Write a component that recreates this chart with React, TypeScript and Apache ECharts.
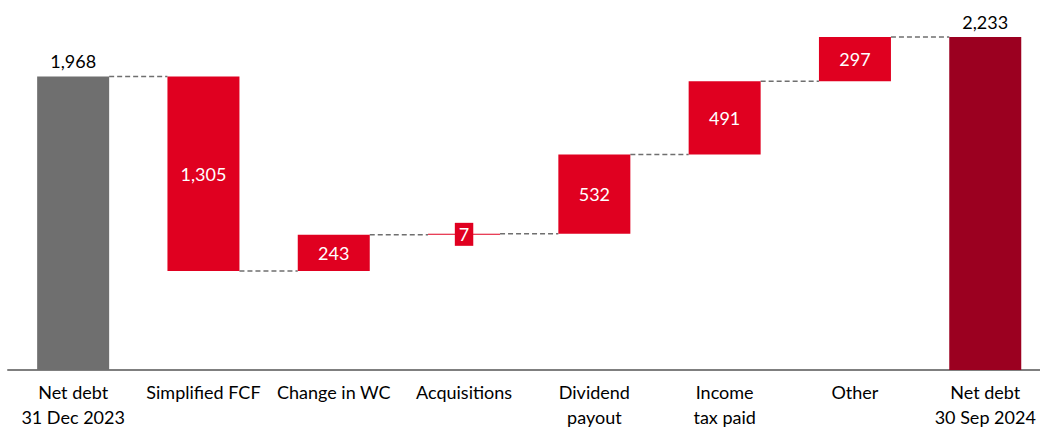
import React, { useEffect, useRef } from "react";
import * as echarts from "echarts";

const categories = [
  "Net debt\n31 Dec 2023",
  "Simplified FCF",
  "Change in WC",
  "Acquisitions",
  "Dividend\npayout",
  "Income\ntax paid",
  "Other",
  "Net debt\n30 Sep 2024",
];
const startTotal = 1968;
const changes = [-1305, 243, 7, 532, 491, 297];
const endTotal = 2233;

const GRAY = "#6f6f6f";
const RED = "#e00020";
const DARK = "#9b0020";
const FONT = "Lato";

export default function App() {
  const ref = useRef<HTMLDivElement>(null);
  useEffect(() => {
    const chart = echarts.init(ref.current!, null, { renderer: "svg" });
    const bases: number[] = [0];
    const heights: number[] = [startTotal];
    const levels: number[] = [startTotal];
    let run = startTotal;
    changes.forEach((c) => {
      const next = run + c;
      bases.push(Math.min(run, next));
      heights.push(Math.abs(c));
      run = next;
      levels.push(run);
    });
    bases.push(0);
    heights.push(endTotal);

    const barData = heights.map((h, i) => {
      const isTotal = i === 0 || i === heights.length - 1;
      const color = i === 0 ? GRAY : i === heights.length - 1 ? DARK : RED;
      const small = !isTotal && h < 50;
      return {
        value: h,
        itemStyle: { color },
        label: isTotal
          ? { show: true, position: "top", distance: 6, color: "#000" }
          : small
          ? {
              show: true,
              position: "inside",
              color: "#fff",
              backgroundColor: RED,
              padding: [3, 4, 2, 4],
            }
          : { show: true, position: "inside", color: "#fff" },
      };
    });

    const connectors = levels.map((v, i) => [i, v]);

    chart.setOption({
      animation: false,
      grid: { left: 8, width: 1042.4, top: 12, height: 361 },
      xAxis: {
        type: "category",
        data: categories,
        axisLine: { lineStyle: { color: "#7f7f7f", width: 2 } },
        axisTick: { show: false },
        axisLabel: {
          interval: 0,
          color: "#000",
          fontFamily: FONT,
          fontSize: 18,
          lineHeight: 25,
          margin: 9,
        },
      },
      yAxis: {
        type: "value",
        min: 0,
        max: 2400,
        show: false,
        splitLine: { show: false },
      },
      series: [
        {
          type: "bar",
          stack: "w",
          data: bases,
          itemStyle: { color: "transparent" },
          barWidth: 72,
          silent: true,
        },
        {
          type: "bar",
          stack: "w",
          data: barData,
          barWidth: 72,
          label: {
            fontFamily: FONT,
            fontSize: 18,
            formatter: (p: any) => p.value.toLocaleString("en-US"),
          },
        },
        {
          type: "custom",
          data: connectors,
          z: 1,
          renderItem: (params: any, api: any) => {
            const i = api.value(0);
            const v = api.value(1);
            const p0 = api.coord([i, v]);
            const p1 = api.coord([i + 1, v]);
            const bw = 72;
            return {
              type: "line",
              shape: { x1: p0[0] + bw / 2, y1: p0[1], x2: p1[0] - bw / 2, y2: p1[1] },
              style: { stroke: "#6f6f6f", lineWidth: 1.5, lineDash: [5, 3] },
            };
          },
        },
      ],
    });
    return () => chart.dispose();
  }, []);
  return (
    <div
      ref={ref}
      style={{ position: "fixed", left: 0, top: 0, width: 1060, height: 429, background: "#fff" }}
    />
  );
}
